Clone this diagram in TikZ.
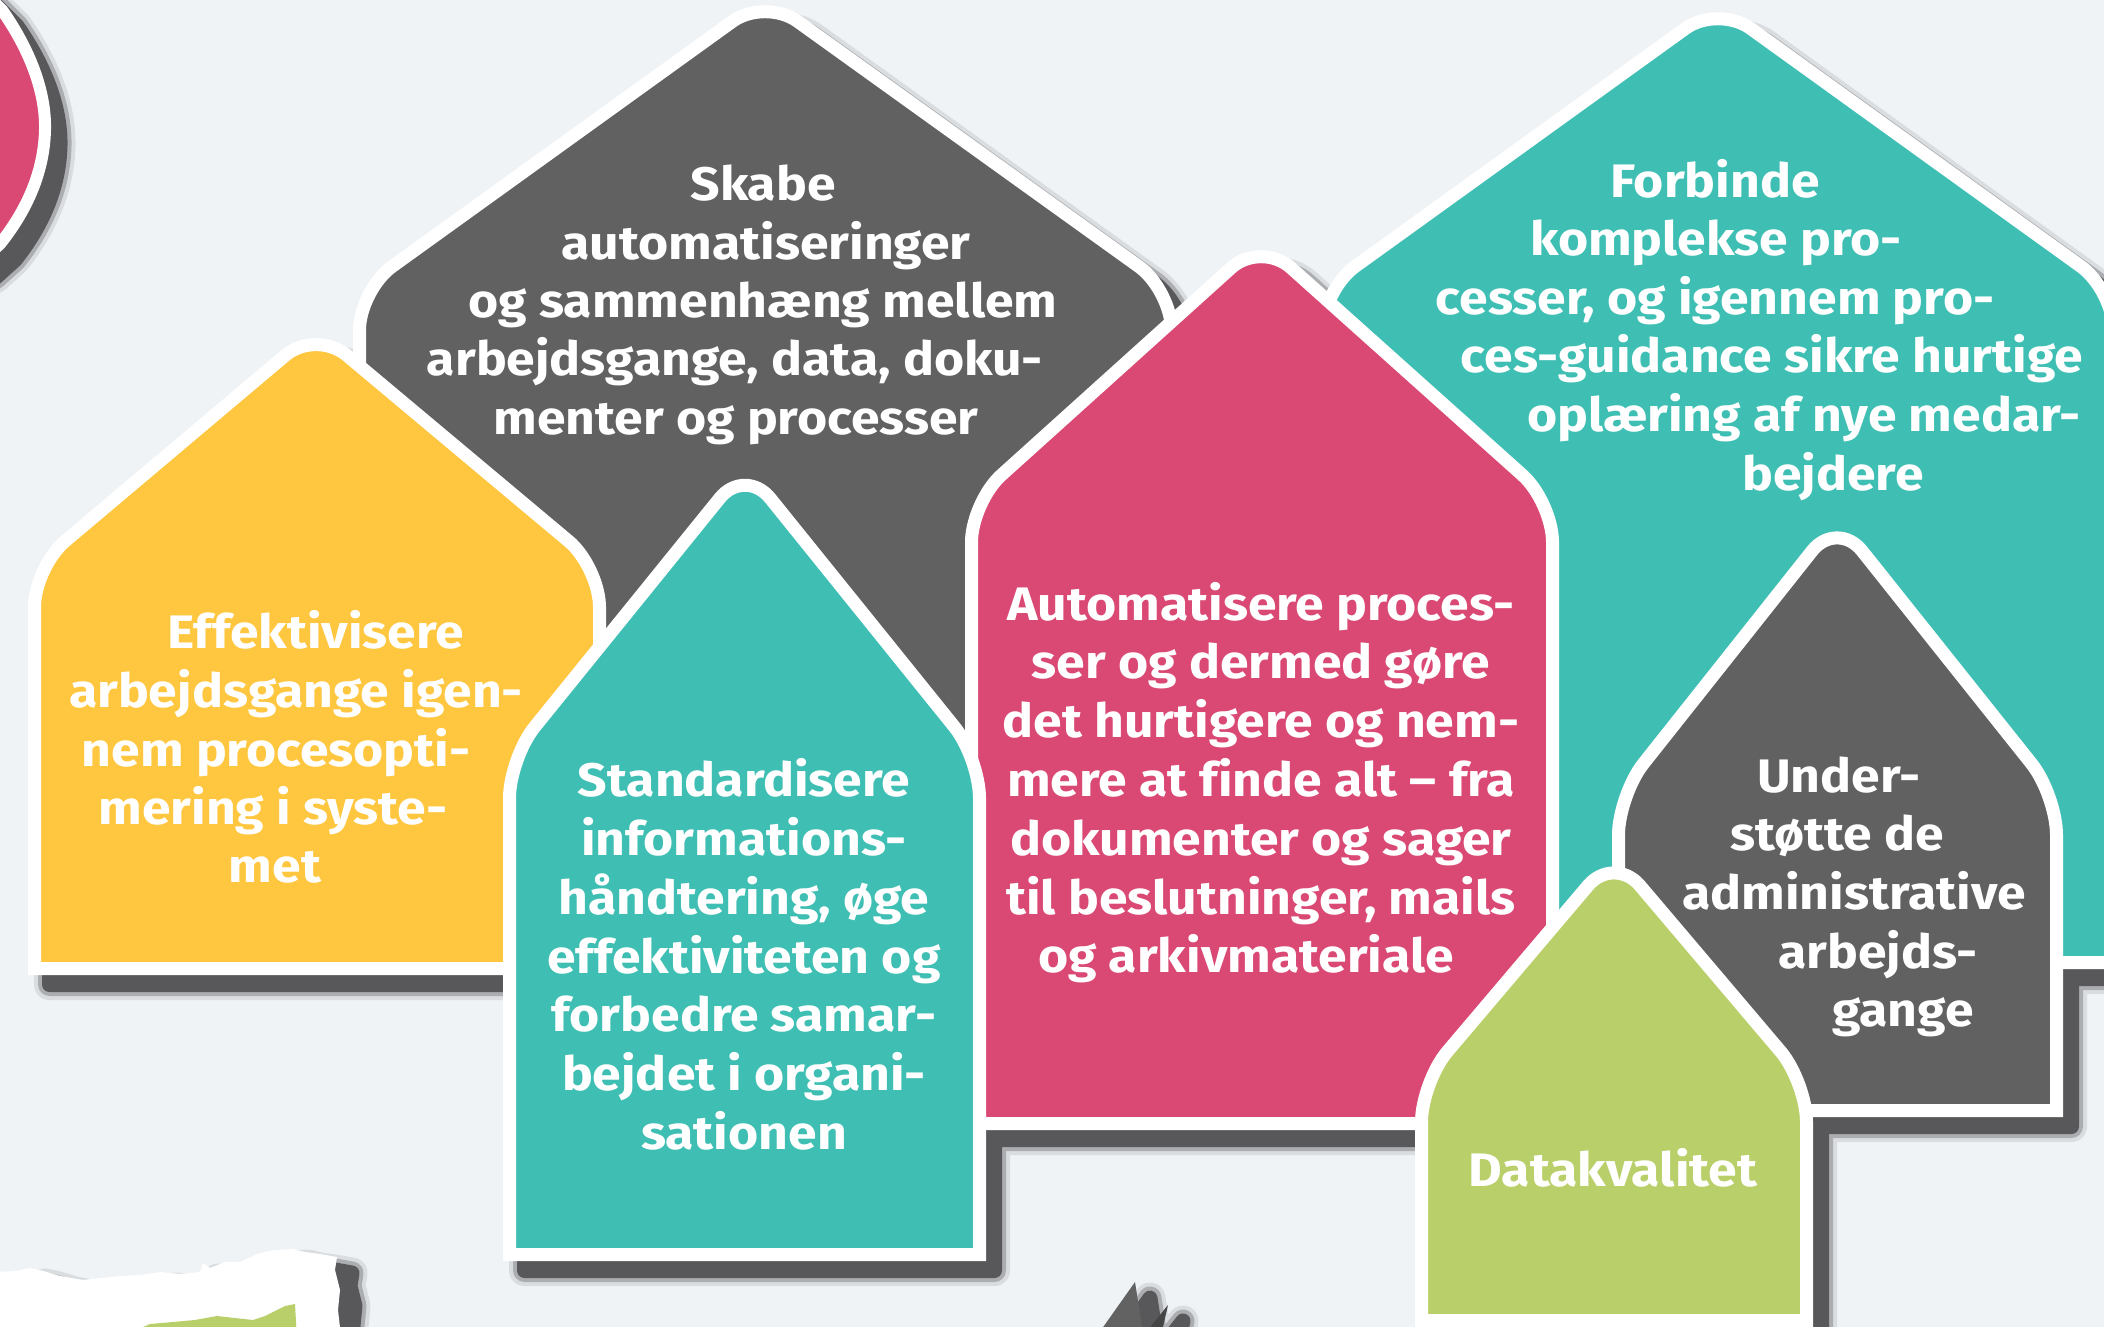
\documentclass[tikz,border=0pt]{standalone}
\usepackage{fontspec}
\newfontfamily\hf{Fira Sans}[FakeStretch=1.1, Ligatures=NoCommon]
\usetikzlibrary{calc}
\definecolor{bgc}{HTML}{EFF3F6}
\definecolor{grayc}{HTML}{616161}
\definecolor{yelc}{HTML}{FFC63F}
\definecolor{tealc}{HTML}{3FBFB4}
\definecolor{pinkc}{HTML}{DA4874}
\definecolor{greenc}{HTML}{B9CF6A}
\definecolor{spkc}{HTML}{626262}
\definecolor{spkd}{HTML}{454545}
\definecolor{shc}{HTML}{58585A}
\colorlet{shm}{shc!45!bgc}
\colorlet{shl}{shc!14!bgc}
\def\hr{40pt}
\def\hc{18pt}
\tikzset{
  hp/.style n args={6}{insert path={(#1,#6) -- ($(#1,#3)!\hr!(#1,#6)$) .. controls ($(#1,#3)!\hc!(#1,#6)$) and ($(#1,#3)!\hc!(#4,#5)$) .. ($(#1,#3)!\hr!(#4,#5)$) -- ($(#4,#5)!\hr!(#1,#3)$) .. controls ($(#4,#5)!\hc!(#1,#3)$) and ($(#4,#5)!\hc!(#2,#3)$) .. ($(#4,#5)!\hr!(#2,#3)$) -- ($(#2,#3)!\hr!(#4,#5)$) .. controls ($(#2,#3)!\hc!(#4,#5)$) and ($(#2,#3)!\hc!(#2,#6)$) .. ($(#2,#3)!\hr!(#2,#6)$) -- (#2,#6) -- cycle}},
  hA/.style={hp={359.5}{1171.5}{290}{765}{-2}{950}},
  hB/.style={hp={34.5}{599.5}{567}{316}{329.5}{968.5}},
  hC/.style={hp={509.5}{979.5}{758}{745}{467}{1254.5}},
  hD/.style={hp={971.5}{1552.5}{502}{1261}{241}{1123.5}},
  hE/.style={hp={1322.5}{2113.5}{290}{1718}{5}{962.5}},
  hF/.style={hp={1618.5}{2056.5}{795}{1837}{519.5}{1110.5}},
  hG/.style={hp={1421.5}{1806.5}{1082}{1614}{855}{1320.5}},
  blobp/.style={insert path={(-20,-12) -- (2,10) .. controls (30,50) and (46,92) .. (45,130) .. controls (44,172) and (27,210) .. (0,244) -- (-20,262) -- cycle}},
  paperp/.style={insert path={(-20,1273) -- (15,1271) -- (30,1268) -- (40,1270) -- (60,1276) -- (83,1280) -- (100,1278) -- (120,1276) -- (140,1275) -- (160,1272) -- (180,1274) -- (200,1272) -- (203,1263) -- (210,1268) -- (225,1262) -- (240,1262) -- (260,1253) -- (275,1250) -- (293,1249) -- (305,1252) -- (320,1254) -- (337,1257) -- (335,1270) -- (340,1290) -- (338,1310) -- (342,1345) -- (-20,1345) -- cycle}},
  greenp/.style={insert path={(143,1340) -- (143,1327) -- (150,1324) -- (173,1322) -- (195,1320) -- (217,1316) -- (235,1318) -- (253,1320) -- (265,1316) -- (273,1312) -- (285,1306) -- (295,1304) -- (297,1340) -- cycle}},
  spkA/.style={insert path={(1094,1340) -- (1135,1282) -- (1144,1340) -- cycle}},
  spkB/.style={insert path={(1140,1340) -- (1168,1305) -- (1160,1340) -- cycle}},
  housebox/.style={draw=white, line width=13pt, line join=miter},
  lbl/.style={text=white, font=\hf\bfseries\fontsize{47}{56}\selectfont, anchor=base, inner sep=0pt},
}
\newcommand\allshapes[1]{%
  \path[#1,blobp]; \path[#1,hA]; \path[#1,hB]; \path[#1,hE]; \path[#1,hD];
  \path[#1,hC]; \path[#1,hF]; \path[#1,hG]; \path[#1,paperp];
  \path[#1,spkA]; \path[#1,spkB];}
\begin{document}
\begin{tikzpicture}[x=1pt,y=-1pt]
\useasboundingbox (0,0) rectangle (2104,1327);
\clip (0,0) rectangle (2104,1327);
\fill[bgc] (0,0) rectangle (2104,1327);
% shadows
\begin{scope}[shift={(15,16)}]
  \allshapes{fill=shl, draw=shl, line width=31pt, line join=round}
  \allshapes{fill=shm, draw=shm, line width=23pt, line join=round}
  \allshapes{fill=shc, draw=shc, line width=15pt, line join=round}
\end{scope}
% shapes
\path[fill=pinkc, draw=white, line width=12pt, blobp];
\path[fill=grayc, housebox, hA];
\path[fill=yelc, housebox, hB];
\path[fill=tealc, housebox, hE];
\path[fill=pinkc, housebox, hD];
\path[fill=tealc, housebox, hC];
\path[fill=grayc, housebox, hF];
\path[fill=greenc, housebox, hG];
\path[fill=white, paperp];
\path[fill=greenc, greenp];
\path[fill=spkc, spkA];
\path[fill=spkd, spkB];
% texts
\node[lbl] (a1) at (763,200) {Skabe};
\node[lbl] (a2) at (766,259) {automatiseringer};
\node[lbl] (a3) at (763,317) {og sammenhæng mellem};
\node[lbl] (a4) at (735,375) {arbejdsgange, data, doku-};
\node[lbl] (a5) at (736,434) {menter og processer};
\node[lbl] (b1) at (316,648) {Effektivisere};
\node[lbl] (b2) at (296,707) {arbejdsgange igen-};
\node[lbl] (b3) at (276,766) {nem procesopti-};
\node[lbl] (b4) at (273,824) {mering i syste-};
\node[lbl] (b5) at (275,882) {met};
\node[lbl] (c1) at (744,796) {Standardisere};
\node[lbl] (c2) at (744,855) {informations-};
\node[lbl] (c3) at (744,914) {håndtering, øge};
\node[lbl] (c4) at (744,973) {effektiviteten og};
\node[lbl] (c5) at (744,1031) {forbedre samar-};
\node[lbl] (c6) at (744,1090) {bejdet i organi-};
\node[lbl] (c7) at (744,1149) {sationen};
\node[lbl] (d1) at (1261,620) {Automatisere proces-};
\node[lbl] (d2) at (1261,678) {ser og dermed gøre};
\node[lbl] (d3) at (1261,737) {det hurtigere og nem-};
\node[lbl] (d4) at (1261,796) {mere at finde alt – fra};
\node[lbl] (d5) at (1261,855) {dokumenter og sager};
\node[lbl] (d6) at (1261,914) {til beslutninger, mails};
\node[lbl] (d7) at (1246,972) {og arkivmateriale};
\node[lbl] (e1) at (1715,197) {Forbinde};
\node[lbl] (e2) at (1716,255) {komplekse pro-};
\node[lbl] (e3) at (1715,314) {cesser, og igennem pro-};
\node[lbl] (e4) at (1772,372) {ces-guidance sikre hurtige};
\node[lbl] (e5) at (1804,431) {oplæring af nye medar-};
\node[lbl] (e6) at (1833,490) {bejdere};
\node[lbl] (f1) at (1839,792) {Under-};
\node[lbl] (f2) at (1837,850) {støtte de};
\node[lbl] (f3) at (1854,909) {administrative};
\node[lbl] (f4) at (1878,968) {arbejds-};
\node[lbl] (f5) at (1903,1026) {gange};
\node[lbl] (g1) at (1613,1186) {Datakvalitet};
\end{tikzpicture}
\end{document}
